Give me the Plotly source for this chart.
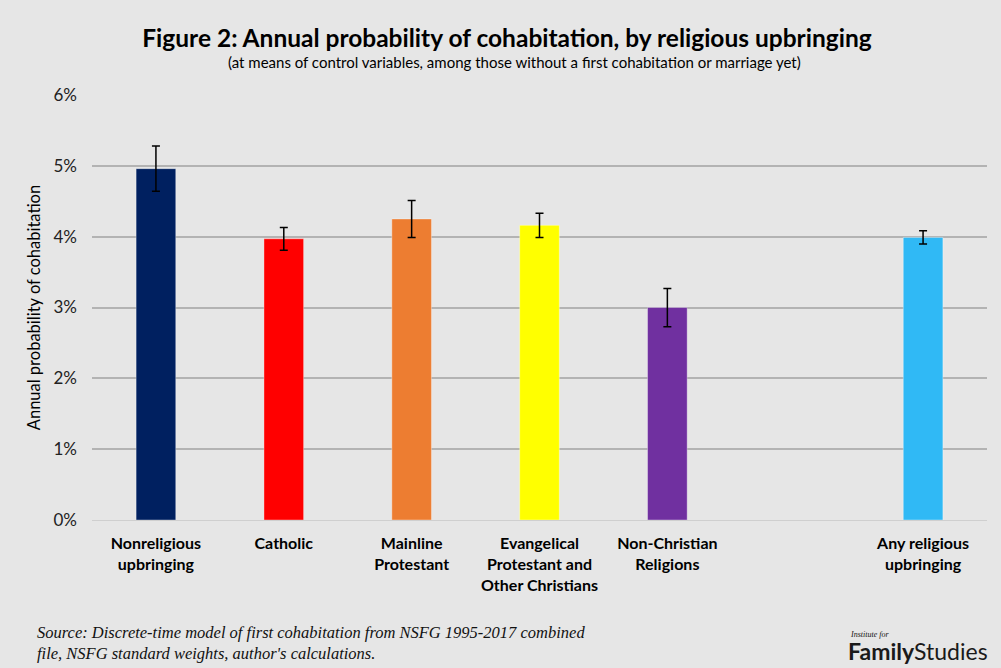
import plotly.graph_objects as go

categories = ["Nonreligious<br>upbringing", "Catholic", "Mainline<br>Protestant",
              "Evangelical<br>Protestant and<br>Other Christians", "Non-Christian<br>Religions",
              " ", "Any religious<br>upbringing"]
values = [4.96, 3.97, 4.25, 4.16, 3.00, None, 3.99]
errors = [0.32, 0.16, 0.26, 0.17, 0.27, None, 0.095]
colors = ["#002060", "#ff0000", "#ed7d31", "#ffff00", "#7030a0", "#ffffff", "#30b9f5"]
y_ticks = [0, 1, 2, 3, 4, 5, 6]
y_ticklabels = ["0%", "1%", "2%", "3%", "4%", "5%", "6%"]

BG = "#e6e6e6"
FONT = "Lato"

fig = go.Figure()
fig.add_trace(go.Bar(
    x=categories, y=values,
    marker=dict(color=colors, line=dict(color="rgba(255,255,255,0.35)", width=1)),
    width=0.31,
    error_y=dict(type="data", array=errors, visible=True, color="#000000",
                 thickness=1.5, width=4),
    hoverinfo="x+y",
))

fig.update_layout(
    width=1001, height=668,
    paper_bgcolor=BG, plot_bgcolor=BG,
    margin=dict(l=92, r=14, t=95, b=148),
    showlegend=False,
    bargap=0.69,
    title=dict(
        text="<b>Figure 2: Annual probability of cohabitation, by religious upbringing</b>",
        x=0.5065, xanchor="center", y=0.943, yanchor="middle",
        font=dict(family=FONT, size=24.5, color="#000000"),
    ),
    xaxis=dict(
        type="category", categoryorder="array", categoryarray=categories,
        showgrid=False, zeroline=False, showline=False, ticks="",
        ticklabelstandoff=12,
        tickfont=dict(family=FONT, size=16, color="#000000", weight="bold"),
    ),
    yaxis=dict(
        range=[0, 6], tickvals=y_ticks, ticktext=y_ticklabels,
        showgrid=True, gridcolor="#b3b3b3", gridwidth=1.5,
        zeroline=True, zerolinecolor="#cfcfcf", zerolinewidth=1,
        showline=False, ticks="", ticklabelstandoff=14,
        tickfont=dict(family=FONT, size=17, color="#222222"),
        title=dict(text="Annual probability of cohabitation",
                   font=dict(family=FONT, size=16.5, color="#000000"), standoff=8),
    ),
)

fig.add_annotation(
    text="(at means of control variables, among those without a first cohabitation or marriage yet)",
    xref="paper", yref="paper", x=0.4726, y=1.0776, xanchor="center", yanchor="middle",
    showarrow=False, font=dict(family=FONT, size=15, color="#000000"),
)
fig.add_annotation(
    text="<i>Source: Discrete-time model of first cohabitation from NSFG 1995-2017 combined<br>file, NSFG standard weights, author's calculations.</i>",
    xref="paper", yref="paper", x=-0.0637, y=-0.238, xanchor="left", yanchor="top",
    align="left", showarrow=False,
    font=dict(family="Liberation Serif", size=16.5, color="#111111"),
)
fig.add_annotation(
    text="<i>Institute for</i>",
    xref="paper", yref="paper", x=0.845, y=-0.27, xanchor="left", yanchor="middle",
    showarrow=False, font=dict(family="Liberation Serif", size=8, color="#111111"),
)
fig.add_annotation(
    text="<b>Family</b>Studies",
    xref="paper", yref="paper", x=0.843, y=-0.308, xanchor="left", yanchor="middle",
    showarrow=False, font=dict(family=FONT, size=23, color="#1a1a1a"),
)

fig.write_html("out.html", config={"displayModeBar": False},
               post_script="document.body.style.margin='0';")
